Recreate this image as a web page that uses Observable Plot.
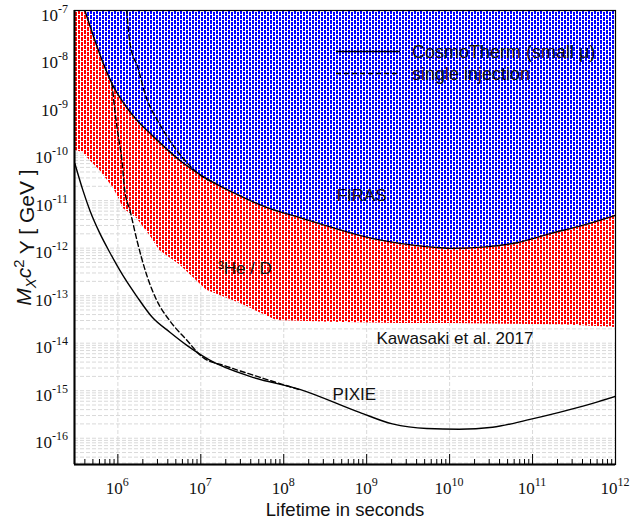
<!DOCTYPE html>
<html><head><meta charset="utf-8">
<script src="https://cdn.jsdelivr.net/npm/d3@7"></script>
<script src="https://cdn.jsdelivr.net/npm/@observablehq/plot@0.6"></script>
<style>body{margin:0;background:#fff}</style>
</head><body><div id="chart"></div>
<script>
// ---- data ----
const xExponents = [6, 7, 8, 9, 10, 11, 12];
const yExponents = [-7, -8, -9, -10, -11, -12, -13, -14, -15, -16];

// FIRAS bound (CosmoTherm, small mu) – solid upper curve
const firasT = [4.0e5, 6.6e5, 8.7e5, 1.28e6, 1.7e6, 2.6e6, 5.6e6, 1.28e7, 2.4e7, 6.2e7, 1.56e8, 3.9e8, 1e9, 2.5e9, 6.2e9, 1e10, 2.5e10, 6.5e10, 1.6e11, 4e11, 1e12];
const firasY = [1e-7, 8.1e-9, 2.65e-9, 9.1e-10, 4.9e-10, 2.35e-10, 7.0e-11, 2.66e-11, 1.5e-11, 7.2e-12, 4.4e-12, 2.7e-12, 1.7e-12, 1.26e-12, 1.05e-12, 9.9e-13, 1.05e-12, 1.3e-12, 2.0e-12, 3.0e-12, 4.9e-12];

// FIRAS single injection – dashed
const firasSingleT = [1.28e6, 1.4e6, 1.74e6, 2.2e6, 3.0e6, 4.2e6, 6.1e6, 9.7e6, 1.5e7];
const firasSingleY = [1e-7, 2.0e-8, 6.3e-9, 1.48e-9, 4.9e-10, 1.86e-10, 7.8e-11, 3.5e-11, 2.3e-11];

// PIXIE forecast (CosmoTherm) – solid lower curve
const pixieT = [3.03e5, 3.79e5, 4.6e5, 6.07e5, 8.0e5, 1.15e6, 1.69e6, 2.6e6, 4.24e6, 6.8e6, 1.28e7, 3.9e7, 1.56e8, 8.2e8, 2.04e9, 5.3e9, 1.3e10, 3.3e10, 8.5e10, 2.1e11, 5.3e11, 1e12];
const pixieY = [6.05e-11, 1.64e-11, 6.2e-12, 2.04e-12, 8.1e-13, 2.67e-13, 9.7e-14, 3.5e-14, 1.7e-14, 9.0e-15, 4.4e-15, 2.0e-15, 1.07e-15, 3.5e-16, 2.0e-16, 1.6e-16, 1.55e-16, 1.7e-16, 2.4e-16, 3.5e-16, 5.4e-16, 7.6e-16];

// PIXIE single injection – dashed
const pixieSingleT = [8.5e5, 9.2e5, 1e6, 1.12e6, 1.21e6, 1.4e6, 1.7e6, 2.2e6, 2.95e6, 4.2e6, 6.8e6, 1.06e7, 2e7, 5e7, 1.5e8];
const pixieSingleY = [2.9e-9, 7.9e-10, 2.6e-10, 7.0e-11, 1.64e-11, 6.2e-12, 1.45e-12, 2.9e-13, 7.9e-14, 3.0e-14, 1.15e-14, 5.0e-15, 3.3e-15, 1.95e-15, 1.07e-15];

// 3He/D bound (Kawasaki et al. 2017) – lower edge of red region
const heT = [3e5, 3.8e5, 4.6e5, 6.07e5, 8.7e5, 1.06e6, 1.15e6, 1.7e6, 2.43e6, 3.2e6, 5.6e6, 1.18e7, 2.95e7, 8.2e7, 3.6e8, 2.5e9, 1e10, 6e10, 2.6e11, 1e12];
const heY = [1.14e-10, 1.03e-10, 7.0e-11, 4.3e-11, 1.9e-11, 1.0e-11, 6.9e-12, 4.2e-12, 1.85e-12, 8.9e-13, 4.4e-13, 1.3e-13, 6.9e-14, 3.0e-14, 2.75e-14, 2.6e-14, 2.6e-14, 2.5e-14, 2.4e-14, 2.15e-14];

// annotations
const noteText = ["FIRAS", "³He / D", "Kawasaki et al. 2017", "PIXIE"];
const noteT = [8.7e8, 3.4e7, 1.16e10, 7.1e8];
const noteY = [1.3e-11, 3.7e-13, 1.26e-14, 8.3e-16];

const legendText = ["CosmoTherm (small μ)", "single injection"];

// ---- build ----
const xDomain = [3e5, 1e12], yDomain = [2.8e-17, 1e-7];
const zip = (a, b) => a.map((v, i) => ({x: v, y: b[i]}));
const firas = zip(firasT, firasY), firasSingle = zip(firasSingleT, firasSingleY);
const pixie = zip(pixieT, pixieY), pixieSingle = zip(pixieSingleT, pixieSingleY);
const he = zip(heT, heY);
const notes = noteText.map((t, i) => ({t, x: noteT[i], y: noteY[i]}));

const xMajor = xExponents.map(e => 10 ** e);
const xMinor = [];
for (let e = 5; e <= 11; e++) for (let k = 2; k <= 9; k++) { const v = k * 10 ** e; if (v >= xDomain[0] && v <= xDomain[1]) xMinor.push(v); }
const yGrid = [];
for (let e = -17; e <= -8; e++) for (let k = 1; k <= 9; k++) { const v = k * 10 ** e; if (v >= yDomain[0] && v <= yDomain[1]) yGrid.push(v); }
const xGrid = xMajor;

const serif = "Liberation Serif";
const sans = "Liberation Sans";

const svg = Plot.plot({
  width: 633, height: 524,
  marginLeft: 74, marginRight: 18, marginTop: 10, marginBottom: 60,
  x: {type: "log", domain: xDomain, axis: null},
  y: {type: "log", domain: yDomain, axis: null},
  style: {background: "white"},
  marks: [
    Plot.ruleY(yGrid, {y: d => d, stroke: "#d9d9d9", strokeDasharray: "4,2", strokeWidth: 1}),
    Plot.ruleX(xGrid, {x: d => d, stroke: "#d9d9d9", strokeDasharray: "4,2", strokeWidth: 1}),
    Plot.areaY(he, {x: "x", y1: "y", y2: 1e-7, fill: "url(#redPat)", curve: "linear", clip: true}),
    Plot.areaY(firas, {x: "x", y1: "y", y2: 1e-7, fill: "url(#bluePat)", curve: "monotone-x", clip: true}),
    Plot.line(firas, {x: "x", y: "y", stroke: "black", strokeWidth: 1.4, curve: "monotone-x", clip: true}),
    Plot.line(firasSingle, {x: "x", y: "y", stroke: "black", strokeWidth: 1.4, strokeDasharray: "5,3", curve: "monotone-x", clip: true}),
    Plot.line(pixie, {x: "x", y: "y", stroke: "black", strokeWidth: 1.4, curve: "monotone-x", clip: true}),
    Plot.line(pixieSingle, {x: "x", y: "y", stroke: "black", strokeWidth: 1.4, strokeDasharray: "5,3", curve: "monotone-x", clip: true}),
    Plot.text(notes, {x: "x", y: "y", text: "t", fontFamily: sans, fontSize: 17, fill: "#111"}),
    Plot.tickX(xMajor, {x: d => d, insetTop: 444, stroke: "black", strokeWidth: 1}),
    Plot.tickX(xMinor, {x: d => d, insetTop: 449, stroke: "black", strokeWidth: 1}),
    Plot.frame({stroke: "black", strokeWidth: 1.2}),
    Plot.ruleX([xDomain[0]], {stroke: "black", strokeWidth: 2}),
    Plot.ruleY([yDomain[0]], {stroke: "black", strokeWidth: 2}),
    Plot.text(["Lifetime in seconds"], {frameAnchor: "bottom", lineAnchor: "middle", textAnchor: "middle", dy: 46, fontFamily: sans, fontSize: 18.5, fill: "#111"}),
    Plot.text(["M_X c^2 Y [ GeV ]"], {frameAnchor: "left", lineAnchor: "middle", textAnchor: "middle", dx: -50, rotate: -90, fontFamily: sans, fontSize: 21, fill: "#111"})
  ]
});

// patterns
const s = d3.select(svg);
const defs = s.insert("defs", ":first-child");
function pat(id, color) {
  const p = defs.append("pattern").attr("id", id).attr("patternUnits", "userSpaceOnUse")
    .attr("width", 6).attr("height", 5);
  p.append("rect").attr("width", 6).attr("height", 5).attr("fill", "white");
  p.append("rect").attr("x", 0).attr("y", 0).attr("width", 2).attr("height", 4).attr("fill", color);
  p.append("rect").attr("x", 3).attr("y", 2).attr("width", 2).attr("height", 4).attr("fill", color);
  p.append("rect").attr("x", 3).attr("y", -3).attr("width", 2).attr("height", 4).attr("fill", color);
}
pat("bluePat", "#0000ff");
pat("redPat", "#ff0000");

// y title with italic / sub / superscript
s.selectAll("text").each(function() {
  if (this.textContent === "M_X c^2 Y [ GeV ]") {
    const el = d3.select(this);
    el.text("");
    el.append("tspan").attr("font-style", "italic").text("M");
    el.append("tspan").attr("font-style", "italic").attr("font-size", "0.7em").attr("dy", "0.35em").text("X");
    el.append("tspan").attr("font-style", "italic").attr("dy", "-0.25em").text("c");
    el.append("tspan").attr("font-size", "0.7em").attr("dy", "-0.5em").text("2");
    el.append("tspan").attr("dy", "0.5em").text(" Y [ GeV ]");
  }
});

// tick labels positioned with Plot's own scales
const sx = svg.scale("x"), sy = svg.scale("y");
const tl = s.append("g").attr("font-family", serif).attr("font-size", 17).attr("fill", "#111");
xExponents.forEach(e => {
  const t = tl.append("text").attr("x", sx.apply(10 ** e)).attr("y", 494).attr("text-anchor", "middle");
  t.append("tspan").text("10");
  t.append("tspan").attr("font-size", 12).attr("dy", -8).text(e);
});
yExponents.forEach(e => {
  const t = tl.append("text").attr("x", 68).attr("y", sy.apply(10 ** e) + 10.5).attr("text-anchor", "end");
  t.append("tspan").text("10");
  t.append("tspan").attr("font-size", 12).attr("dy", -8).text(e);
});

// legend
const lg = s.append("g").attr("text-anchor", "start");
const rows = [{y: 51.5, dash: null}, {y: 73.5, dash: "5,3"}];
rows.forEach((r, i) => {
  lg.append("line").attr("x1", 336).attr("x2", 400).attr("y1", r.y).attr("y2", r.y)
    .attr("stroke", "black").attr("stroke-width", 1.3).attr("stroke-dasharray", r.dash);
  lg.append("text").attr("x", 412).attr("y", r.y).attr("dy", "0.35em").attr("text-anchor", "start")
    .attr("font-family", sans).attr("font-size", 18).attr("fill", "#111").text(legendText[i]);
});

document.getElementById("chart").appendChild(svg);
</script>
</body></html>
